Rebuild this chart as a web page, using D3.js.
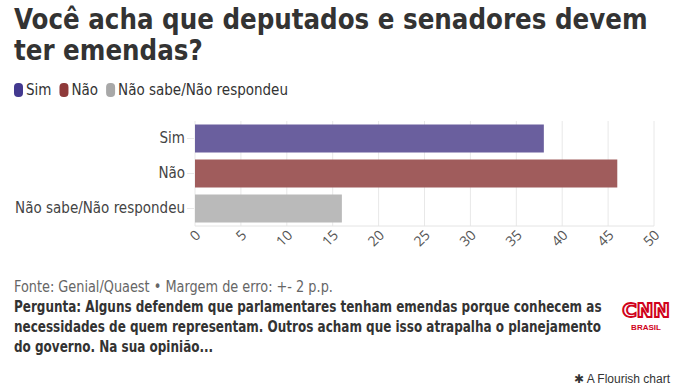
<!DOCTYPE html>
<html>
<head>
<meta charset="utf-8">
<script src="https://cdn.jsdelivr.net/npm/d3@7"></script>
<style>
  body { margin: 0; background: #fff; }
  svg { display: block; }
</style>
</head>
<body>
<div id="chart"></div>
<script>
  // data
  const categories = ['Sim', 'Não', 'Não sabe/Não respondeu'];
  const values = [38, 46, 16];
  const barColors = ['#6a5f9e', '#a05c5c', '#bababa'];
  const legendColors = ['#43398f', '#8f3a3a', '#a8a8a8'];
  const xTicks = [0, 5, 10, 15, 20, 25, 30, 35, 40, 45, 50];

  const title = ['Você acha que deputados e senadores devem', 'ter emendas?'];
  const source = 'Fonte: Genial/Quaest • Margem de erro: +- 2 p.p.';
  const question = [
    'Pergunta: Alguns defendem que parlamentares tenham emendas porque conhecem as',
    'necessidades de quem representam. Outros acham que isso atrapalha o planejamento',
    'do governo. Na sua opinião...'
  ];

  const W = 678, H = 388;
  const condensed = '"DejaVu Sans Condensed", "DejaVu Sans", sans-serif';

  const svg = d3.select('#chart').append('svg')
    .attr('width', W)
    .attr('height', H);

  // text lines squeezed horizontally (the original uses a narrower face)
  function textLines(lines, opts) {
    const g = svg.append('g');
    const sel = g.selectAll('text')
      .data(lines)
      .enter()
      .append('text')
      .attr('x', 0)
      .attr('y', 0)
      .attr('font-family', condensed)
      .attr('font-weight', opts.weight || 'normal')
      .attr('font-size', opts.size)
      .attr('fill', opts.color)
      .text(d => d);
    const r = opts.width / sel.node().getComputedTextLength();
    sel.attr('transform', (d, i) => `translate(${opts.x},${opts.y + i * opts.lh}) scale(${r},1)`);
    return sel;
  }

  // title
  textLines(title, { x: 14, y: 29, lh: 31, size: 28, weight: 'bold', color: '#333', width: 634 });

  // legend
  let lx = 14;
  const legend = svg.append('g').attr('transform', 'translate(0,90)');
  categories.forEach((c, i) => {
    legend.append('rect')
      .attr('x', lx)
      .attr('y', -7)
      .attr('width', 9)
      .attr('height', 14)
      .attr('rx', 4)
      .attr('fill', legendColors[i]);
    const t = legend.append('text')
      .attr('x', lx + 12)
      .attr('y', 5)
      .attr('font-family', condensed)
      .attr('font-size', 15)
      .attr('fill', '#333')
      .text(c);
    lx += 12 + t.node().getComputedTextLength() + 8;
  });

  // plot
  const margin = { top: 121, left: 195, right: 24, bottom: 162 };
  const x = d3.scaleLinear()
    .domain([0, 50])
    .range([margin.left, W - margin.right]);
  const y = d3.scaleBand()
    .domain(categories)
    .range([margin.top, H - margin.bottom])
    .paddingInner(0.2)
    .paddingOuter(0.1);

  const plotBottom = H - margin.bottom;

  // grid
  svg.append('g').selectAll('line')
    .data(xTicks)
    .enter()
    .append('line')
    .attr('x1', d => x(d))
    .attr('x2', d => x(d))
    .attr('y1', margin.top)
    .attr('y2', plotBottom)
    .attr('stroke', '#e8e8e8')
    .attr('stroke-width', 1);

  svg.append('line')
    .attr('x1', x(0))
    .attr('x2', x(50))
    .attr('y1', plotBottom)
    .attr('y2', plotBottom)
    .attr('stroke', '#e4e4e4');

  // bars
  svg.append('g').selectAll('rect')
    .data(values)
    .enter()
    .append('rect')
    .attr('x', x(0))
    .attr('y', (d, i) => y(categories[i]))
    .attr('width', d => x(d) - x(0))
    .attr('height', y.bandwidth())
    .attr('fill', (d, i) => barColors[i]);

  // y axis
  const yAxis = svg.append('g')
    .attr('transform', `translate(${margin.left},0)`)
    .call(d3.axisLeft(y).tickSize(7).tickPadding(3));
  yAxis.select('.domain').remove();
  yAxis.selectAll('.tick line').attr('stroke', '#e8e8e8').attr('x2', -7).attr('transform', 'translate(-1,0)');
  yAxis.selectAll('.tick text')
    .attr('font-family', condensed)
    .attr('font-size', 15)
    .attr('fill', '#444');

  // x axis
  const xAxis = svg.append('g')
    .attr('transform', `translate(0,${plotBottom})`)
    .call(d3.axisBottom(x).tickValues(xTicks).tickSize(0).tickPadding(0));
  xAxis.select('.domain').remove();
  xAxis.selectAll('.tick text')
    .attr('font-family', '"Open Sans", sans-serif')
    .attr('font-size', 14)
    .attr('fill', '#555')
    .attr('text-anchor', 'end')
    .attr('dy', 0)
    .attr('transform', 'translate(6,10) rotate(-45)');

  // footer
  textLines([source], { x: 14, y: 292, lh: 0, size: 15, color: '#666', width: 319 });
  textLines(question, { x: 14, y: 312, lh: 20, size: 15, weight: 'bold', color: '#333', width: 588 });

  // logo
  const logo = svg.append('g').attr('transform', 'translate(646,317)');
  logo.append('text')
    .attr('text-anchor', 'middle')
    .attr('font-family', condensed)
    .attr('font-weight', 'bold')
    .attr('font-size', 20)
    .attr('fill', '#fff')
    .attr('stroke', '#d0021b')
    .attr('stroke-width', 1.8)
    .attr('transform', 'scale(1.1,1)')
    .text('CNN');
  logo.append('text')
    .attr('y', 13)
    .attr('text-anchor', 'middle')
    .attr('font-family', '"Liberation Sans", Arial, sans-serif')
    .attr('font-weight', 'bold')
    .attr('font-size', 8)
    .attr('fill', '#d0021b')
    .text('BRASIL');

  // credit
  svg.append('text')
    .attr('x', 670)
    .attr('y', 383)
    .attr('text-anchor', 'end')
    .attr('font-family', '"Liberation Sans", Arial, sans-serif')
    .attr('font-size', 12)
    .attr('fill', '#333')
    .text('✱ A Flourish chart');
</script>
</body>
</html>
